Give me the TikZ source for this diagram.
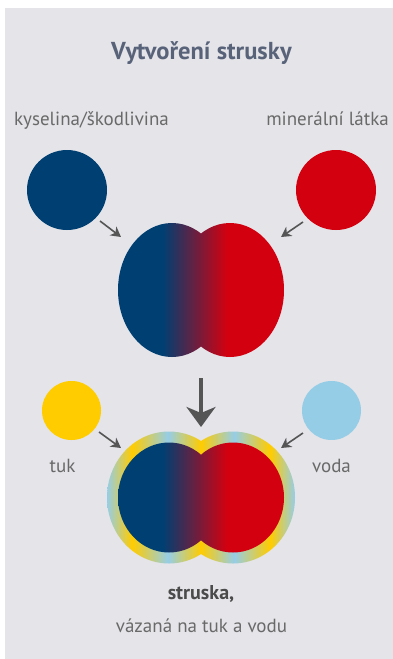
\documentclass[tikz,border=0pt]{standalone}
\usepackage{fontspec}
\setmainfont{PT Sans}
\usetikzlibrary{arrows.meta}
\definecolor{bgc}{RGB}{228,228,233}
\definecolor{cblue}{RGB}{0,63,114}
\definecolor{cred}{RGB}{211,0,15}
\definecolor{cyel}{RGB}{255,204,0}
\definecolor{clb}{RGB}{150,205,230}
\definecolor{carrow}{RGB}{85,85,85}
\definecolor{ctitle}{RGB}{88,99,122}
\definecolor{ctext}{RGB}{105,105,105}
\definecolor{cdark}{RGB}{75,75,75}
\pgfdeclarehorizontalshading{bluered}{100bp}{color(0bp)=(cblue); color(38.5bp)=(cblue); color(57.8bp)=(cred); color(100bp)=(cred)}
\pgfdeclarehorizontalshading{ringshade}{100bp}{color(0bp)=(clb); color(25bp)=(clb); color(31.6bp)=(cyel); color(41.2bp)=(clb); color(50bp)=(cyel); color(58.8bp)=(clb); color(68.4bp)=(cyel); color(75bp)=(clb); color(100bp)=(clb)}
\begin{document}
\begin{tikzpicture}[x=1pt,y=-1pt,
  blob/.style={circle,inner sep=0pt,minimum size=#1,draw=none},
  smallarr/.style={carrow,line width=1.6pt,-{Stealth[length=10pt,width=11pt,inset=3pt]}},
  bigarr/.style={carrow,line width=4pt,-{Stealth[length=20pt,width=29pt,inset=6pt]}},
  lbl/.style={text=ctext,font=\fontsize{19}{22}\selectfont,inner sep=0pt}]
\useasboundingbox (0,0) rectangle (393,659);
\fill[bgc] (5,8) rectangle (393,659);

\node[font=\fontsize{24.5}{28}\selectfont\bfseries,text=ctitle,anchor=base,inner sep=0pt] (title) at (201.5,59) {Vytvoření strusky};
\node[lbl,anchor=base west] (acidlbl) at (14,125) {kyselina/škodlivina};
\node[lbl,anchor=base east] (minlbl) at (389,125) {minerální látka};

\node[blob=80pt,fill=cblue] (acid) at (67,190) {};
\node[blob=80pt,fill=cred] (mineral) at (336,190) {};

% merged shape
\coordinate (mix) at (201,290);
\path[shading=bluered] (172,290) ellipse [x radius=54pt, y radius=67pt] (230,290) ellipse [x radius=54pt, y radius=67pt];

\coordinate (a1s) at (100,221); \coordinate (a1e) at (121,237);
\coordinate (a2s) at (303,222); \coordinate (a2e) at (281,237);
\draw[smallarr] (a1s) -- (a1e);
\draw[smallarr] (a2s) -- (a2e);

\coordinate (ds) at (201,378); \coordinate (de) at (201,427);
\draw[bigarr] (ds) -- (de);

\node[blob=59pt,fill=cyel] (fat) at (71.5,410.5) {};
\node[blob=59pt,fill=clb] (water) at (331.5,410.5) {};
\node[lbl,anchor=base] (fatlbl) at (62.5,472) {tuk};
\node[lbl,anchor=base] (waterlbl) at (331.5,472) {voda};

\coordinate (b1s) at (99,432); \coordinate (b1e) at (121,448);
\coordinate (b2s) at (303,433); \coordinate (b2e) at (281,448);
\draw[smallarr] (b1s) -- (b1e);
\draw[smallarr] (b2s) -- (b2e);

% slag
\coordinate (slag) at (201,497.5);
\path[shading=ringshade] (169,497.5) ellipse [x radius=62pt, y radius=66pt] (233,497.5) ellipse [x radius=62pt, y radius=66pt];
\path[shading=bluered] (169,497.5) ellipse [x radius=51pt, y radius=55pt] (233,497.5) ellipse [x radius=51pt, y radius=55pt];

\node[font=\fontsize{20}{24}\selectfont\bfseries,text=cdark,anchor=base,inner sep=0pt] (slaglbl) at (201,599) {struska,};
\node[lbl,anchor=base] (sublbl) at (201.5,632) {vázaná na tuk a vodu};
\end{tikzpicture}
\end{document}
